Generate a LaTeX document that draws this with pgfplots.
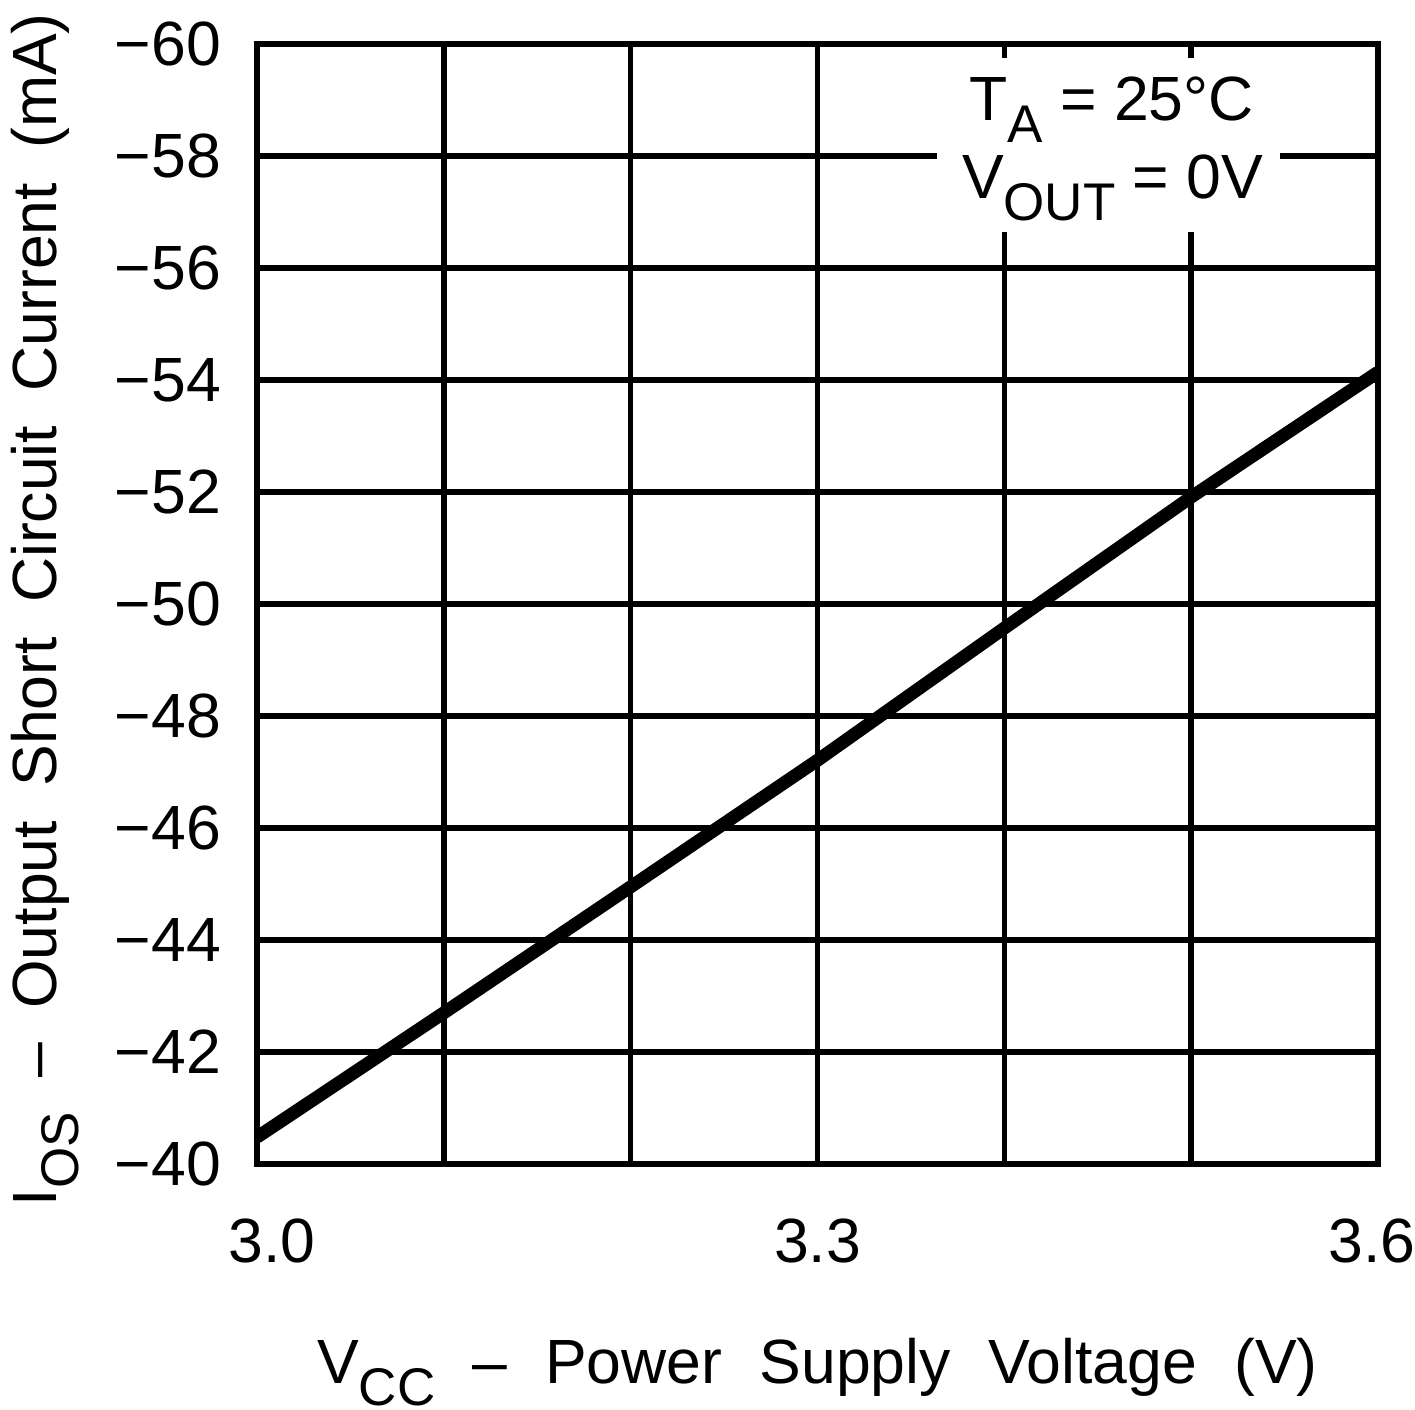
\documentclass[border=0pt]{standalone}
\usepackage{fontspec}
\setmainfont{Liberation Sans}
\usepackage{pgfplots}
\pgfplotsset{compat=1.18}
\newcommand{\sub}[1]{\raisebox{-4.4pt}{\fontsize{10.6pt}{12pt}\selectfont #1}}
\newcommand{\gap}{\hspace{0.6em}}
\newcommand{\ygap}{\hspace{0.55em}}
\begin{document}
\begin{tikzpicture}
\begin{axis}[
 scale only axis, width=224.2pt, height=224pt,
 xmin=3.0, xmax=3.6, ymin=-60, ymax=-40, y dir=reverse,
 xtick={3.0,3.1,3.2,3.3,3.4,3.5,3.6},
 xticklabels={\hspace*{6pt}3.0,,,3.3,,,3.6\hspace*{2.4pt}},
 ytick={-60,-58,-56,-54,-52,-50,-48,-46,-44,-42,-40},
 yticklabels={−60,−58,−56,−54,−52,−50,−48,−46,−44,−42,−40},
 grid=major, major grid style={black, line width=1.1pt},
 axis line style={black, line width=1.3pt},
 major tick length=0pt,
 tick label style={font=\fontsize{12.5pt}{14pt}\selectfont, inner sep=0pt},
 xticklabel style={anchor=north, yshift=-10.8pt},
 yticklabel style={anchor=east, xshift=-7pt},
 label style={font=\fontsize{12.5pt}{14pt}\selectfont, inner sep=0pt},
 xlabel={V\sub{CC}\gap–\gap Power\gap Supply\gap Voltage\gap (V)},
 ylabel={I\sub{OS}\ygap–\ygap Output\ygap Short\ygap Circuit\ygap Current\ygap (mA)},
 xlabel style={at={([yshift=-43.8pt]axis cs:3.3,-40)}, anchor=base},
 ylabel style={at={([xshift=-40pt]axis cs:3.0,-49.9)}, anchor=base},
]
\addplot[black, line width=2.6pt] coordinates {(3.0,-40.48) (3.1,-42.70) (3.2,-44.95) (3.3,-47.21) (3.4,-49.57) (3.5,-51.91) (3.6,-54.14)};
\node[fill=white, inner sep=0pt, minimum width=68.6pt, minimum height=34.8pt] at (axis cs:3.4558,-58.196) {};
\node[anchor=base, inner sep=0pt, font=\fontsize{12.5pt}{14pt}\selectfont] at (axis cs:3.4574,-58.643) {T\sub{A} = 25°C};
\node[anchor=base, inner sep=0pt, font=\fontsize{12.5pt}{14pt}\selectfont] at (axis cs:3.458,-57.25) {V\sub{OUT} = 0V};
\coordinate (sw) at (axis cs:3.0,-40);
\coordinate (ne) at (axis cs:3.6,-60);
\end{axis}
\pgfresetboundingbox
\useasboundingbox ([xshift=-51.4pt,yshift=-49pt]sw) rectangle ([xshift=7.4pt,yshift=8.8pt]ne);
\end{tikzpicture}
\end{document}
